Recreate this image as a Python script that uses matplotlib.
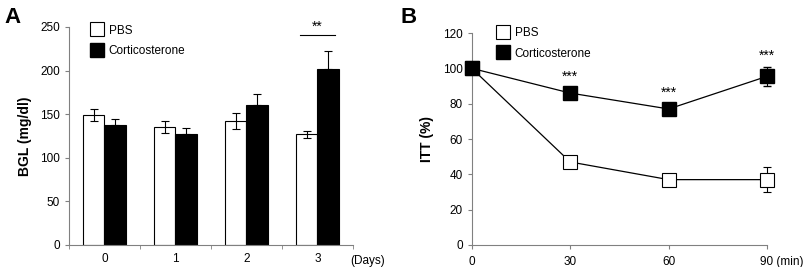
import numpy as np
import matplotlib
matplotlib.use('Agg')
import matplotlib.pyplot as plt
import matplotlib.transforms as mtransforms

plt.rcParams['font.family'] = ['Liberation Sans', 'DejaVu Sans']

# panel A data
days = ['0', '1', '2', '3']
bgl_pbs = [149, 135, 142, 127]
bgl_pbs_err = [7, 7, 9, 4]
bgl_cort = [138, 127, 160, 202]
bgl_cort_err = [7, 7, 13, 21]

# panel B data
minutes = [0, 30, 60, 90]
itt_pbs = [100, 47, 37, 37]
itt_pbs_err = [0, 1.5, 3, 7]
itt_cort = [100, 86, 77, 95.5]
itt_cort_err = [0, 1.5, 3, 5.5]
itt_stars = ['', '***', '***', '***']

grey = '#808080'
fs = 8.5
fig = plt.figure(figsize=(8.05, 2.67), dpi=100)

# ---- A ----
axA = fig.add_axes([0.0857, 0.0824, 0.3528, 0.8166])
x = np.arange(len(days))
w = 0.3
axA.bar(x - w/2, bgl_pbs, w, color='white', edgecolor='black', linewidth=0.8,
        yerr=bgl_pbs_err, capsize=3, error_kw=dict(elinewidth=0.8, capthick=0.8), zorder=2)
axA.bar(x + w/2, bgl_cort, w, color='black', edgecolor='black', linewidth=0.8,
        yerr=[[0]*4, bgl_cort_err], capsize=3, error_kw=dict(elinewidth=0.8, capthick=0.8), zorder=2)
axA.set_xlim(-0.5, 3.5)
axA.set_ylim(0, 250)
axA.set_yticks(range(0, 251, 50))
axA.set_xticks(x)
axA.set_xticklabels(days)
axA.set_xticks(np.arange(-0.5, 3.6, 1), minor=True)
axA.tick_params(axis='x', which='major', length=0, pad=6, labelsize=fs)
axA.tick_params(axis='x', which='minor', length=3, color=grey, direction='out')
axA.tick_params(axis='y', length=3, color=grey, labelsize=fs)
axA.set_ylabel('BGL (mg/dl)', fontsize=10, fontweight='bold', labelpad=6)
axA.text(0.99, -0.075, '(Days)', transform=axA.transAxes, fontsize=fs, va='center', ha='left')
axA.plot([2.76, 3.24], [241, 241], color='black', lw=0.8, clip_on=False)
axA.text(3.0, 242, '**', ha='center', va='bottom', fontsize=10)
axA.plot([], [], 's', ms=10, mfc='white', mec='black', mew=0.8, label='PBS')
axA.plot([], [], 's', ms=10, mfc='black', mec='black', label='Corticosterone')
axA.legend(loc='upper left', bbox_to_anchor=(0.04, 1.06), frameon=False, fontsize=fs,
           handletextpad=0.5, labelspacing=0.75, handlelength=1.0)

# ---- B ----
axB = fig.add_axes([0.586, 0.0824, 0.367, 0.794])
axB.errorbar(minutes, itt_pbs, yerr=itt_pbs_err, color='black', lw=0.9, marker='s', ms=10,
             mfc='white', mec='black', mew=0.8, capsize=3, elinewidth=0.8, label='PBS',
             zorder=3, clip_on=False)
axB.errorbar(minutes, itt_cort, yerr=itt_cort_err, color='black', lw=0.9, marker='s', ms=10,
             mfc='black', mec='black', capsize=3, elinewidth=0.8, label='Corticosterone',
             zorder=3, clip_on=False)
for m, v, e, s in zip(minutes, itt_cort, itt_cort_err, itt_stars):
    axB.text(m, v + max(e, 3) + 2, s, ha='center', va='bottom', fontsize=10)
axB.set_xlim(0, 90)
axB.set_ylim(0, 120)
axB.set_xticks(minutes)
axB.set_xticklabels(['0', '30', '60', '90 (min)'])
axB.set_yticks(range(0, 121, 20))
axB.tick_params(axis='x', length=3, color=grey, labelsize=fs, pad=5)
axB.tick_params(axis='y', length=3, color=grey, labelsize=fs)
axB.set_ylabel('ITT (%)', fontsize=10, fontweight='bold', labelpad=6)
axB.legend(loc='upper left', bbox_to_anchor=(0.05, 1.08), frameon=False, fontsize=fs,
           handletextpad=0.5, labelspacing=0.75, handlelength=1.0)
# shift the "90 (min)" label so that "90" sits under its tick
lab = axB.get_xticklabels()[-1]
lab.set_horizontalalignment('left')
lab.set_transform(lab.get_transform() + mtransforms.ScaledTranslation(-0.07, 0, fig.dpi_scale_trans))

for ax in (axA, axB):
    ax.spines['top'].set_visible(False)
    ax.spines['right'].set_visible(False)
    ax.spines['left'].set_color(grey)
    ax.spines['bottom'].set_color(grey)

fig.text(0.006, 0.915, 'A', fontsize=16, fontweight='bold')
fig.text(0.497, 0.915, 'B', fontsize=16, fontweight='bold')

fig.savefig('out.png', dpi=100)
